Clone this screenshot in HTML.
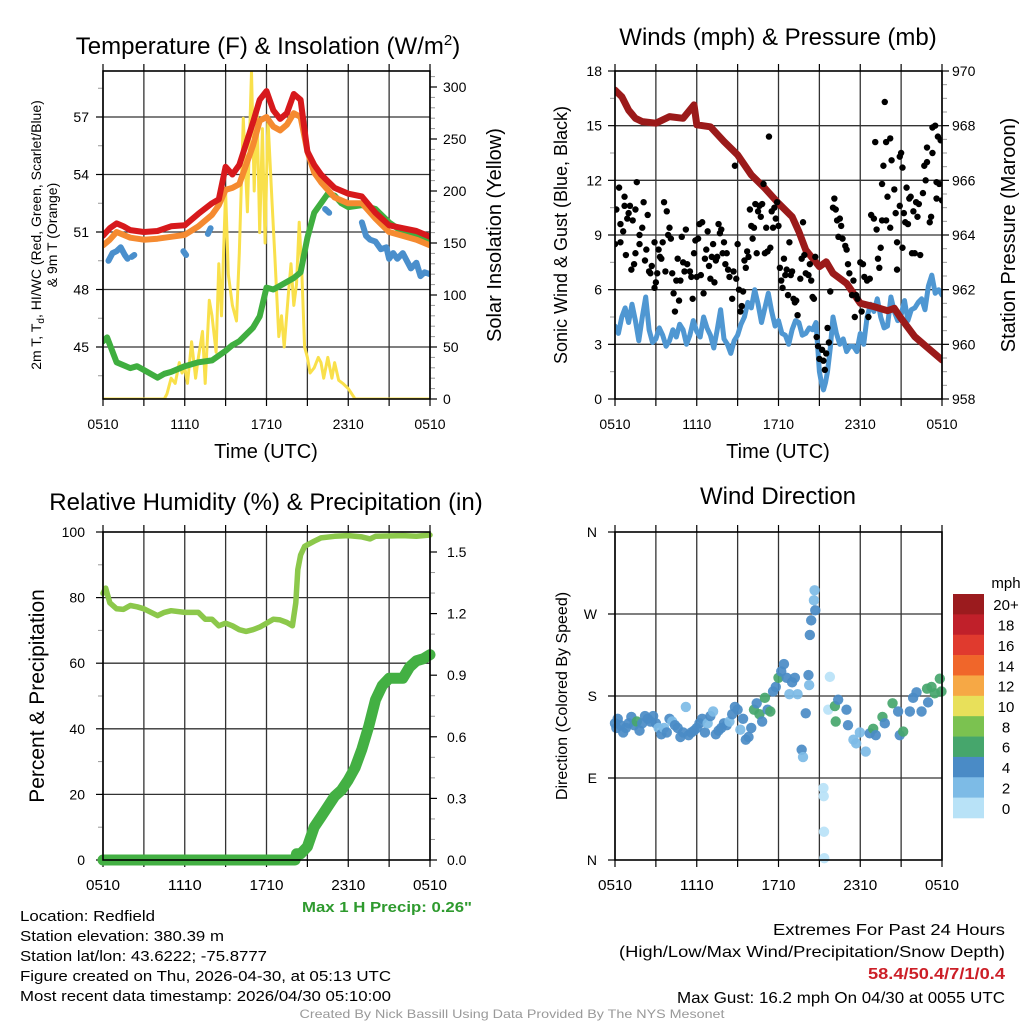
<!DOCTYPE html>
<html><head><meta charset="utf-8"><title>Redfield Mesonet</title>
<style>html,body{margin:0;padding:0;background:#fff}svg{display:block}text{font-family:"Liberation Sans",sans-serif;fill:#000}</style></head>
<body>
<svg id="fig" width="1024" height="1024" viewBox="0 0 1024 1024" xmlns="http://www.w3.org/2000/svg">
<rect width="1024" height="1024" fill="#fff"/>
<g id="p1"></g>
<g id="p2"></g>
<g id="p3"></g>
<g id="p4"></g>
<text x="268" y="54" font-size="24" text-anchor="middle">Temperature (F) &amp; Insolation (W/m<tspan font-size="15" dy="-9">2</tspan><tspan dy="9">)</tspan></text>
<text x="778" y="45" font-size="24" text-anchor="middle">Winds (mph) &amp; Pressure (mb)</text>
<text x="266" y="510" font-size="24" text-anchor="middle">Relative Humidity (%) &amp; Precipitation (in)</text>
<text x="778" y="504" font-size="24" text-anchor="middle">Wind Direction</text>
<text transform="translate(41,235) rotate(-90)" font-size="14" text-anchor="middle">2m T, T<tspan font-size="10" dy="3">d</tspan><tspan dy="-3">, HI/WC (Red, Green, Scarlet/Blue)</tspan></text>
<text transform="translate(57,235) rotate(-90)" font-size="14" text-anchor="middle">&amp; 9m T (Orange)</text>
<text transform="translate(501,235) rotate(-90)" font-size="20" text-anchor="middle">Solar Insolation (Yellow)</text>
<text x="266" y="458" font-size="20" text-anchor="middle">Time (UTC)</text>
<text transform="translate(567,235) rotate(-90)" font-size="18" text-anchor="middle">Sonic Wind &amp; Gust (Blue, Black)</text>
<text transform="translate(1015,235) rotate(-90)" font-size="20" text-anchor="middle">Station Pressure (Maroon)</text>
<text x="778" y="458" font-size="20" text-anchor="middle">Time (UTC)</text>
<text transform="translate(44,696) rotate(-90)" font-size="21" text-anchor="middle">Percent &amp; Precipitation</text>
<text transform="translate(567,696) rotate(-90)" font-size="16" text-anchor="middle">Direction (Colored By Speed)</text>
<text x="472" y="912" font-size="15" font-weight="bold" text-anchor="end" style="fill:#2e9a2e" textLength="170" lengthAdjust="spacingAndGlyphs">Max 1 H Precip: 0.26"</text>
<g font-size="15">
<text x="20" y="921" textLength="135" lengthAdjust="spacingAndGlyphs">Location: Redfield</text>
<text x="20" y="941" textLength="204" lengthAdjust="spacingAndGlyphs">Station elevation: 380.39 m</text>
<text x="20" y="961" textLength="247" lengthAdjust="spacingAndGlyphs">Station lat/lon: 43.6222; -75.8777</text>
<text x="20" y="981" textLength="371" lengthAdjust="spacingAndGlyphs">Figure created on Thu, 2026-04-30, at 05:13 UTC</text>
<text x="20" y="1001" textLength="371" lengthAdjust="spacingAndGlyphs">Most recent data timestamp: 2026/04/30 05:10:00</text>
</g>
<g font-size="16" text-anchor="end">
<text x="1005" y="935" textLength="232" lengthAdjust="spacingAndGlyphs">Extremes For Past 24 Hours</text>
<text x="1005" y="957" textLength="386" lengthAdjust="spacingAndGlyphs">(High/Low/Max Wind/Precipitation/Snow Depth)</text>
<text x="1005" y="979" font-weight="bold" style="fill:#cc1f27" textLength="137" lengthAdjust="spacingAndGlyphs">58.4/50.4/7/1/0.4</text>
<text x="1005" y="1003" textLength="328" lengthAdjust="spacingAndGlyphs">Max Gust: 16.2 mph On 04/30 at 0055 UTC</text>
</g>
<text x="512" y="1018" font-size="12" text-anchor="middle" style="fill:#999" textLength="425" lengthAdjust="spacingAndGlyphs">Created By Nick Bassill Using Data Provided By The NYS Mesonet</text>
<g id="legend"></g>
</svg>
<script>
// ---------- data ----------
const xTickLabels = ["0510","1110","1710","2310","0510"];
const redT = [0,0.5,1,1.5,2,3,4,5,6,7,8,8.5,9,9.5,10,11,11.5,12,12.5,13,13.5,14,14.5,15,15.5,16,17,18,19,20,21,22,23,24];
const redV = [50.8,51.2,51.45,51.3,51.1,51.0,51.05,51.3,51.35,51.95,52.5,52.7,54.4,54.0,54.5,56.7,57.9,58.35,57.35,56.9,57.2,58.2,57.9,55.2,54.5,54.0,53.3,53.0,52.85,52.0,51.35,51.2,51.05,50.75];
const orangeT = [0,0.5,1,2,3,4,5,6,7,8,8.5,9,9.5,10,11,11.5,12,12.5,13,13.5,14,14.5,15,15.5,16,17,18,19,20,21,22,23,24];
const orangeV = [50.3,50.6,51.0,50.7,50.6,50.65,50.75,50.85,51.3,51.9,52.4,53.2,53.3,53.5,55.5,56.8,57.0,56.5,56.3,56.6,57.2,57.0,55.2,54.1,53.6,52.8,52.5,52.5,51.7,51.0,50.8,50.6,50.3];
const greenT = [0,0.3,1,2,2.5,3,4,4.5,5,6,7,8,9,9.5,10,11,11.5,12,12.5,13,14,14.5,15,15.5,16,16.5,17,17.5,18,19,20,21,22,23,24];
const greenV = [45.3,45.5,44.2,43.9,44.0,43.8,43.4,43.6,43.7,44.0,44.2,44.3,44.8,45.1,45.3,46.0,46.6,48.1,48.0,48.2,48.6,48.9,50.7,52.0,52.5,53.0,52.9,52.5,52.3,52.4,52.2,51.5,51.0,50.8,50.5];
const hiSeg1T = [0.4,0.7,1.0,1.3,1.6,1.8]; const hiSeg1V = [49.5,49.9,50.0,50.2,49.8,49.6];
const hiSeg2T = [2.1,2.3]; const hiSeg2V = [49.7,49.8];
const hiSeg3T = [5.9,6.1]; const hiSeg3V = [50.0,49.8];
const hiSeg4T = [7.7,7.9]; const hiSeg4V = [50.9,51.2];
const hiSeg5T = [16.3,16.6]; const hiSeg5V = [52.2,52.0];
const hiSeg6T = [19.0,19.3,19.6,20.0,20.4,20.8,21.0,21.3,21.6,22.0,22.3,22.6,23.0,23.3,23.6,24.0];
const hiSeg6V = [51.5,50.8,50.6,50.5,50.1,50.2,49.6,49.9,49.6,49.9,49.5,49.1,49.4,48.7,48.9,48.8];
const solarT = [0,4.5,4.7,5,5.3,5.6,5.8,6,6.2,6.5,6.8,7,7.3,7.5,7.8,8,8.3,8.5,8.7,9,9.2,9.5,9.8,10,10.3,10.6,10.9,11.1,11.3,11.5,11.7,11.9,12.1,12.4,12.6,12.9,13.1,13.3,13.6,13.8,14,14.2,14.4,14.6,14.8,15,15.2,15.5,15.8,16,16.2,16.5,16.8,17,17.3,17.6,18,18.5,24];
const solarV = [0,0,5,20,15,35,25,30,15,55,20,40,65,15,95,80,45,130,80,200,120,90,75,140,270,180,315,200,280,160,260,150,270,190,140,60,80,50,100,130,90,110,170,120,50,40,25,30,40,35,20,40,20,35,18,15,10,0,0];
const presT = [0,0.5,1,1.5,2,3,4,5,5.8,6,7,8,9,10,11,12,13,13.5,14,15,15.5,16,17,18,19,20,20.5,21,22,23,24];
const presV = [969.3,969.06,968.57,968.27,968.15,968.09,968.33,968.27,968.76,968.03,967.96,967.42,966.93,966.2,965.71,965.16,964.67,964.12,963.45,962.84,963.02,962.6,962.23,961.5,961.38,961.23,961.32,960.95,960.28,959.85,959.43];
const sonicT = [0,0.25,0.5,0.75,1,1.25,1.5,1.75,2,2.25,2.5,2.75,3,3.25,3.5,3.75,4,4.25,4.5,4.75,5,5.25,5.5,5.75,6,6.25,6.5,6.75,7,7.25,7.5,7.75,8,8.25,8.5,8.75,9,9.25,9.5,9.75,10,10.25,10.5,10.75,11,11.25,11.5,11.75,12,12.25,12.5,12.75,13,13.25,13.5,13.75,14,14.25,14.5,14.75,15,15.15,15.3,15.45,15.6,15.8,16,16.25,16.5,16.75,17,17.25,17.5,17.75,18,18.25,18.5,18.75,19,19.25,19.5,19.75,20,20.25,20.5,20.75,21,21.25,21.5,21.75,22,22.25,22.5,22.75,23,23.25,23.5,23.75,24];
const sonicV = [4.0,3.6,4.5,5.0,4.2,5.2,4.3,3.2,4.5,5.6,3.8,3.1,3.3,3.9,3.5,2.9,3.2,3.8,3.4,4.1,3.8,3.0,3.5,4.3,3.7,3.4,4.5,3.9,3.5,2.8,3.8,4.9,3.3,3.0,2.5,3.2,3.5,4.1,4.5,5.3,5.0,6.0,5.2,4.2,5.0,5.8,4.8,4.0,4.3,3.6,3.5,3.0,3.8,4.3,4.2,3.5,3.6,3.9,3.8,4.2,1.5,0.9,0.5,0.9,1.5,2.8,4.5,3.6,3.0,3.3,2.6,2.9,2.9,2.6,3.6,3.0,4.5,5.2,4.8,5.5,4.5,3.9,4.0,5.6,4.8,4.3,4.6,5.4,4.3,4.9,5.0,5.3,5.5,4.9,6.2,6.8,5.8,6.0,5.7];
const gustT = [0,0.1,0.3,0.4,0.4,0.6,0.7,0.7,0.8,0.9,1.0,1.1,1.2,1.3,1.4,1.5,1.5,1.6,1.8,1.8,2.0,2.1,2.2,2.3,2.4,2.5,2.6,2.7,2.9,2.9,3.0,3.1,3.2,3.3,3.4,3.5,3.6,3.7,3.8,3.9,4.0,4.1,4.2,4.3,4.4,4.5,4.6,4.7,4.8,4.9,5.0,5.1,5.2,5.3,5.5,5.6,5.7,5.8,5.9,6.0,6.1,6.2,6.3,6.4,6.5,6.6,6.7,6.8,6.9,7.0,7.1,7.2,7.3,7.4,7.5,7.6,7.7,7.8,7.9,8.0,8.1,8.2,8.3,8.4,8.6,8.7,8.8,8.9,9.0,9.1,9.2,9.3,9.4,9.5,9.6,9.7,9.8,9.9,10.0,10.1,10.2,10.3,10.4,10.5,10.6,10.7,10.8,10.9,11.0,11.1,11.2,11.3,11.4,11.5,11.6,11.7,11.8,11.9,12.0,12.1,12.2,12.3,12.4,12.5,12.6,12.7,12.8,12.9,13.0,13.1,13.2,13.3,13.4,13.6,13.7,13.8,13.9,14.0,14.2,14.3,14.4,14.5,14.6,14.7,14.8,14.9,15.0,15.2,15.3,15.4,15.5,15.6,15.7,15.8,16.0,16.1,16.2,16.3,16.4,16.5,16.6,16.7,16.9,17.0,17.1,17.2,17.4,17.5,17.6,17.7,17.8,18.0,18.1,18.2,18.3,18.5,18.6,18.7,18.8,19.0,19.1,19.2,19.3,19.4,19.5,19.6,19.6,19.7,19.8,19.9,19.9,20.0,20.2,20.2,20.3,20.5,20.6,20.7,20.7,20.9,20.9,21.0,21.1,21.1,21.2,21.3,21.4,21.5,21.6,21.7,21.8,21.9,22.0,22.1,22.2,22.3,22.4,22.6,22.7,22.8,22.9,22.9,23.1,23.2,23.3,23.3,23.5,23.6,23.6,23.7,23.8,23.9,24.0];
const gustV = [8.5,10.4,11.6,8.6,9.6,9.2,10.6,11.1,7.9,9.9,10.2,10.6,7.1,9.8,7.4,8.0,10.4,11.9,8.5,9.0,9.4,10.8,7.6,8.2,10.1,7.0,6.9,7.3,6.1,8.6,6.4,6.9,8.2,7.8,7.7,8.6,10.8,7.0,10.3,9.0,9.4,8.8,6.9,5.8,4.8,6.5,7.7,5.4,6.5,8.9,7.5,7.0,9.3,7.4,7.0,6.7,5.5,8.0,8.7,6.7,8.8,9.6,6.8,9.7,5.8,7.7,8.2,9.2,7.3,6.6,7.8,8.5,6.4,7.6,7.8,9.6,9.1,9.3,8.0,8.6,7.4,8.0,7.1,6.7,5.5,7.0,12.8,6.6,8.5,6.0,4.8,5.1,5.9,7.6,7.2,8.1,7.8,10.4,9.5,8.8,9.4,10.7,8.0,10.3,10.6,10.0,10.7,11.8,8.0,9.4,8.1,14.4,8.3,10.3,9.4,10.5,9.9,10.8,9.5,7.2,6.5,6.1,7.7,6.8,7.1,5.7,8.6,6.8,7.0,5.5,5.3,5.4,4.6,6.6,7.7,9.7,7.9,6.9,6.8,7.4,6.5,5.6,5.5,7.8,3.4,2.9,2.2,2.7,2.1,1.6,2.5,3.9,3.1,5.9,10.5,11.0,10.4,9.8,8.9,9.9,9.5,8.8,8.4,8.2,7.4,6.9,5.7,6.5,4.5,5.7,5.5,7.5,4.8,7.4,6.7,6.5,4.5,6.6,10.1,9.9,14.1,9.3,7.7,7.2,8.3,9.8,11.8,12.8,16.3,9.8,14.1,11.1,14.3,9.4,13.1,11.5,10.2,7.1,8.6,10.6,13.3,13.5,8.3,12.7,10.2,9.7,11.6,9.6,11.0,11.1,8.0,10.3,8.0,10.8,10.0,10.7,7.9,11.3,12.8,12.0,13.8,13.0,9.7,10.0,13.5,14.9,15.0,11.9,11.0,14.4,11.8,14.2,10.9];
const rhT = [0,0.2,0.5,1,1.5,2,2.5,3,4,4.5,5,6,7,7.5,8,8.5,9,9.5,10,10.5,11,11.5,12,12.5,13,13.5,13.9,14.15,14.3,14.5,14.8,15,15.5,16,17,18,19,19.6,20,22,23,24];
const rhV = [81.3,82.9,78.4,76.6,76.4,77.6,77.2,76.6,74.5,75.5,76.0,75.5,75.5,73.4,73.4,71.4,72.2,71.4,70.2,69.7,70.2,71.0,72.2,73.4,73.2,72.4,71.4,78.4,88.5,93.0,95.6,96.1,97.2,98.2,98.7,98.9,98.5,97.9,98.7,98.9,98.7,99.1];
const prT = [0,14.1,14.2,14.5,15,15.5,16,16.5,17,17.5,18,18.5,19,19.5,20,20.5,21,21.5,22,22.5,23,23.5,24];
const prV = [0,0,0.03,0.03,0.065,0.16,0.21,0.26,0.31,0.34,0.39,0.45,0.54,0.65,0.78,0.85,0.885,0.885,0.885,0.94,0.97,0.98,1.0];
const wdT = [0,0.1,0.2,0.4,0.6,0.8,1.0,1.2,1.4,1.6,1.8,2.0,2.2,2.4,2.6,2.8,3.0,3.2,3.4,3.6,3.8,4.0,4.2,4.4,4.6,4.8,5.0,5.2,5.4,5.6,5.8,6.0,6.2,6.4,6.6,6.8,7.0,7.2,7.4,7.6,7.8,8.0,8.2,8.4,8.6,8.8,9.0,9.2,9.4,9.6,9.8,10.0,10.2,10.4,10.6,10.8,11.0,11.2,11.4,11.6,11.8,12.0,12.2,12.4,12.6,12.8,13.0,13.2,13.4,13.7,13.8,14.0,14.2,14.25,14.3,14.4,14.6,14.65,14.7,15.3,15.32,15.34,15.36,15.65,15.77,16.14,16.2,16.38,16.99,17.1,17.5,17.7,17.97,18.4,18.7,18.95,19.14,19.63,19.8,20.37,20.78,20.9,21.15,21.64,21.88,22.13,22.5,22.9,22.98,23.23,23.47,23.84,23.96];
const wdDir = [150,145,155,148,140,145,150,157,148,152,142,150,158,155,152,158,150,145,138,145,140,155,152,148,145,135,140,168,137,140,142,145,150,155,140,150,158,163,138,142,145,150,148,152,160,168,165,143,155,132,135,145,165,172,160,152,178,165,163,185,190,200,207,215,200,182,195,200,182,121,113,161,203,192,247,263,285,296,274,79,70,31,2,165,201,169,152,176,165,148,132,128,140,119,139,144,137,157,150,172,163,137,141,163,178,184,163,188,173,190,183,199,185];
const wdSpd = [5,5,5,5,5,5,5,5,5,7,5,5,5,5,5,5,5,3,5,3,5,5,3,5,5,5,5,3,5,5,5,5,5,5,5,3,5,3,5,5,5,5,5,3,5,5,5,3,5,5,5,5,7,5,7,5,7,5,7,5,5,7,5,5,5,3,5,5,3,5,3,5,5,3,5,5,3,3,5,1,1,1,1,1,1,7,7,5,5,5,3,3,3,3,5,7,5,7,5,7,5,5,7,5,5,5,5,7,5,7,7,7,7];
const legendLabels = ["20+","18","16","14","12","10","8","6","4","2","0"];
const speedColors = ["#b8e2f7","#7dbbe6","#4a8bc6","#46a66c","#7bc250","#e8e05a","#f6a845","#f0662a","#e03a2e","#c0202a","#9b1b1e"];

// ---------- helpers ----------
const NS = "http://www.w3.org/2000/svg";
function mk(parent, tag, attrs){ const e=document.createElementNS(NS,tag); for(const k in attrs) e.setAttribute(k,attrs[k]); parent.appendChild(e); return e; }
function lin(d0,d1,r0,r1){ return v => r0 + (v-d0)/(d1-d0)*(r1-r0); }

function frame(g, L, R, T, B, name){
  const xs = lin(0,24,L,R);
  for(let h=0;h<=24;h+=3){
    const x = xs(h);
    const gl = mk(g,'line',{x1:x,x2:x,y1:T,y2:B,stroke:'#333','stroke-width':1.3});
    
    
    mk(g,'line',{x1:x,x2:x,y1:B,y2:B+7,stroke:'#000','stroke-width':1.2});
    mk(g,'line',{x1:x,x2:x,y1:T-7,y2:T,stroke:'#000','stroke-width':1.2});
  }
  return xs;
}
function hgrid(g,L,R,y){ mk(g,'line',{x1:L,x2:R,y1:y,y2:y,stroke:'#333','stroke-width':1.3}); }
function leftTicks(g,L,ys,vals,labels,minor,lx,fs){
  vals.forEach((v,i)=>{ const y=ys(v); mk(g,'line',{x1:L-7,x2:L,y1:y,y2:y,stroke:'#000','stroke-width':1.2});
    const t=mk(g,'text',{x:lx,y:y+5,'font-size':fs,'text-anchor':'end'}); t.textContent=labels[i];
      });
  minor.forEach(v=>{ const y=ys(v); mk(g,'line',{x1:L-5,x2:L,y1:y,y2:y,stroke:'#999','stroke-width':1}); });
}
function rightTicks(g,R,ys,vals,labels,minor,lx,fs){
  vals.forEach((v,i)=>{ const y=ys(v); mk(g,'line',{x1:R,x2:R+7,y1:y,y2:y,stroke:'#000','stroke-width':1.2});
    const t=mk(g,'text',{x:lx,y:y+5,'font-size':fs,'text-anchor':'start'}); t.textContent=labels[i];
      });
  minor.forEach(v=>{ const y=ys(v); mk(g,'line',{x1:R,x2:R+5,y1:y,y2:y,stroke:'#999','stroke-width':1}); });
}
function xLabels(g,xs,y,fs,narrow){
  xTickLabels.forEach((l,i)=>{ const t=mk(g,'text',{x:xs(i*6),y:y,'font-size':fs,'text-anchor':'middle'});
    if(narrow){ t.setAttribute('textLength',34); t.setAttribute('lengthAdjust','spacingAndGlyphs'); }
    t.textContent=l;   });
}
function border(g,L,R,T,B){ mk(g,'rect',{x:L,y:T,width:R-L,height:B-T,fill:'none',stroke:'#000','stroke-width':1.6}); }
function line(g,T,V,xs,ys,color,w,name){
  const pts=T.map((t,i)=>xs(t).toFixed(1)+','+ys(V[i]).toFixed(1)).join(' ');
  const p=mk(g,'polyline',{points:pts,fill:'none',stroke:color,'stroke-width':w,'stroke-linejoin':'round','stroke-linecap':'round'});
    return p;
}
function range(a,b,s){ const r=[]; for(let v=a; v<=b+1e-9; v+=s) r.push(+v.toFixed(4)); return r; }

// ---------- panel 1 ----------
(function(){
  const g=document.getElementById('p1'); const L=103,R=430,T=71,B=399;
  const xs=frame(g,L,R,T,B,'temp');
  const ys=lin(45,57,347,117); const ys2=lin(0,300,399,87);
  [45,48,51,54,57].forEach(v=>hgrid(g,L,R,ys(v)));
  leftTicks(g,L,ys,[45,48,51,54,57],["45","48","51","54","57"],range(43.5,58.5,1.5).filter(v=>v%3!==0),89,14);
  rightTicks(g,R,ys2,[0,50,100,150,200,250,300],["0","50","100","150","200","250","300"],range(10,310,10).filter(v=>v%50!==0),443,14);
  xLabels(g,xs,429,14,false);
  const cp=mk(g,'clipPath',{id:'c1'}); mk(cp,'rect',{x:L,y:T,width:R-L,height:B-T});
  const d=mk(g,'g',{'clip-path':'url(#c1)'});
  line(d,solarT,solarV,xs,ys2,'#f9e04b',3,'solar-line');
  line(d,greenT,greenV,xs,ys,'#3fae3f',6,'dewpoint-line');
  line(d,orangeT,orangeV,xs,ys,'#f58a30',6,'temp-9m-line');
  line(d,redT,redV,xs,ys,'#d7191c',6,'temp-2m-line');
  [[hiSeg1T,hiSeg1V],[hiSeg2T,hiSeg2V],[hiSeg3T,hiSeg3V],[hiSeg4T,hiSeg4V],[hiSeg5T,hiSeg5V],[hiSeg6T,hiSeg6V]].forEach(s=>line(d,s[0],s[1],xs,ys,'#4a8fcc',6,'heat-index-line'));
  border(g,L,R,T,B);
})();

// ---------- panel 2 ----------
(function(){
  const g=document.getElementById('p2'); const L=615,R=942,T=71,B=399;
  const xs=frame(g,L,R,T,B,'wind');
  const ys=lin(0,18,399,71); const ys2=lin(958,970,399,71);
  [3,6,9,12,15].forEach(v=>hgrid(g,L,R,ys(v)));
  leftTicks(g,L,ys,[0,3,6,9,12,15,18],["0","3","6","9","12","15","18"],range(1.5,16.5,3),602,14);
  rightTicks(g,R,ys2,[958,960,962,964,966,968,970],["958","960","962","964","966","968","970"],range(958.5,969.5,0.5).filter(v=>v%2!==0),952,14);
  xLabels(g,xs,429,14,false);
  const cp=mk(g,'clipPath',{id:'c2'}); mk(cp,'rect',{x:L,y:T,width:R-L,height:B-T});
  const d=mk(g,'g',{'clip-path':'url(#c2)'});
  line(d,sonicT,sonicV,xs,ys,'#4f97d2',5,'sonic-wind-line');
  line(d,presT,presV,xs,ys2,'#9b1a1a',7,'pressure-line');
  gustT.forEach((t,i)=>{ const c=mk(d,'circle',{cx:xs(t),cy:ys(gustV[i]),r:3.2,fill:'#000'});
      });
  border(g,L,R,T,B);
})();

// ---------- panel 3 ----------
(function(){
  const g=document.getElementById('p3'); const L=103,R=430,T=532,B=860;
  const xs=frame(g,L,R,T,B,'rh');
  const ys=lin(0,100,860,532); const ys2=lin(0,1.5,860,552);
  [20,40,60,80].forEach(v=>hgrid(g,L,R,ys(v)));
  leftTicks(g,L,ys,[0,20,40,60,80,100],["0","20","40","60","80","100"],[10,30,50,70,90],85,14);
  rightTicks(g,R,ys2,[0,0.3,0.6,0.9,1.2,1.5],["0.0","0.3","0.6","0.9","1.2","1.5"],[0.1,0.2,0.4,0.5,0.7,0.8,1.0,1.1,1.3,1.4],447,14);
  xLabels(g,xs,890,15,true);
  const d=mk(g,'g',{});
  line(d,rhT,rhV,xs,ys,'#8cc84b',5.5,'humidity-line');
  line(d,prT,prV,xs,ys2,'#43b043',11,'precip-line');
  border(g,L,R,T,B);
})();

// ---------- panel 4 ----------
(function(){
  const g=document.getElementById('p4'); const L=615,R=942,T=532,B=860;
  const xs=frame(g,L,R,T,B,'dir');
  const ys=lin(0,360,860,532);
  [90,180,270].forEach(v=>hgrid(g,L,R,ys(v)));
  leftTicks(g,L,ys,[0,90,180,270,360],["N","E","S","W","N"],[],597,14);
  xLabels(g,xs,890,15,true);
  const d=mk(g,'g',{});
  wdT.forEach((t,i)=>{ const ci=Math.min(10,Math.floor(wdSpd[i]/2));
    const c=mk(d,'circle',{cx:xs(t),cy:ys(wdDir[i]),r:5.2,fill:speedColors[ci],'fill-opacity':0.92});
      });
  border(g,L,R,T,B);
  const lg=document.getElementById('legend');
  const h=(818-594)/legendLabels.length;
  legendLabels.forEach((l,i)=>{ const y=594+i*h;
    const r=mk(lg,'rect',{x:953,y:y,width:31,height:h+0.3,fill:speedColors[10-i]});
     
    const t=mk(lg,'text',{x:1006,y:y+h/2+6,'font-size':15,'text-anchor':'middle'}); t.textContent=l;
      });
  const u=mk(lg,'text',{x:1006,y:588,'font-size':15,'text-anchor':'middle'}); u.textContent='mph';
   
})();
</script>
</body></html>
